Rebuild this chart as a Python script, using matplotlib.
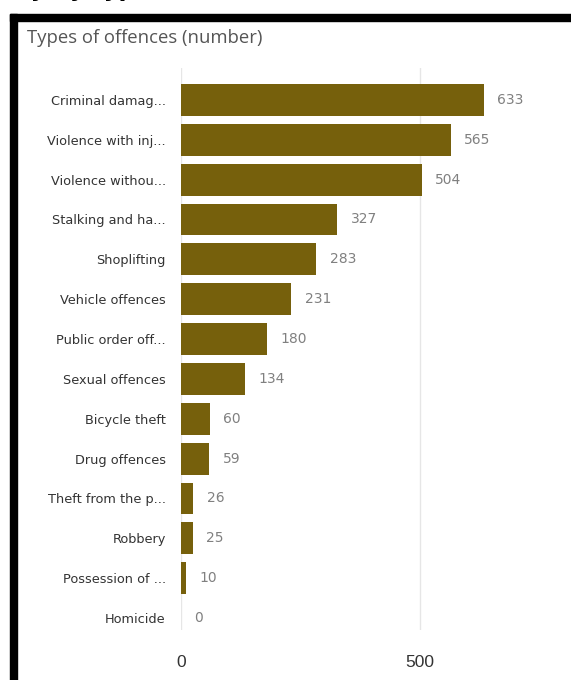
import matplotlib.pyplot as plt
from matplotlib.patches import Rectangle

# Data
categories = ["Criminal damag...", "Violence with inj...", "Violence withou...",
              "Stalking and ha...", "Shoplifting", "Vehicle offences",
              "Public order off...", "Sexual offences", "Bicycle theft",
              "Drug offences", "Theft from the p...", "Robbery",
              "Possession of ...", "Homicide"]
counts = [633, 565, 504, 327, 283, 231, 180, 134, 60, 59, 26, 25, 10, 0]
x_ticks = [0, 500]

bar_color = "#76600c"
W, H = 571, 680

fig = plt.figure(figsize=(W / 100, H / 100), dpi=100)

# frame of the card (thick black left and top edge)
fig.patches.append(Rectangle((10 / W, 0), 7 / W, (H - 14) / H, transform=fig.transFigure,
                             color="black", zorder=0))
fig.patches.append(Rectangle((10 / W, (H - 21) / H), (W - 10) / W, 7 / H,
                             transform=fig.transFigure, color="black", zorder=0))

# heading cut off at the top of the screenshot
fig.text(-0.125, 1.0 + 4 / H, "Category by type", fontsize=16.5, fontweight="bold",
         color="black", ha="left", va="baseline", family="DejaVu Sans")

fig.text(27 / W, 1 - 38 / H, "Types of offences (number)", fontsize=13.3, color="#555555",
         ha="left", va="center", family="Open Sans")

ax = fig.add_axes([181 / W, 1 - 630 / H, (W - 181) / W, (630 - 68) / H])
y = list(range(len(categories)))
ax.barh(y, counts, height=0.8, color=bar_color)
ax.set_xlim(0, 816)
ax.set_ylim(13.3, -0.8)

for yi, v in zip(y, counts):
    ax.text(v + 28, yi, str(v), va="center", ha="left", fontsize=10, color="#808080",
            family="DejaVu Sans Condensed")

ax.set_yticks(y)
ax.set_yticklabels(categories, fontsize=9.3, color="#333333", family="DejaVu Sans")
ax.set_xticks(x_ticks)
ax.set_xticklabels([str(t) for t in x_ticks], fontsize=12.5, color="#333333",
                   family="Liberation Sans")
ax.tick_params(axis="y", length=0, pad=11)
ax.tick_params(axis="x", length=0, pad=18)
ax.grid(axis="x", color="#e6e6e6", linewidth=1)
ax.set_axisbelow(True)
for s in ax.spines.values():
    s.set_visible(False)

fig.savefig("out.png", dpi=100)
